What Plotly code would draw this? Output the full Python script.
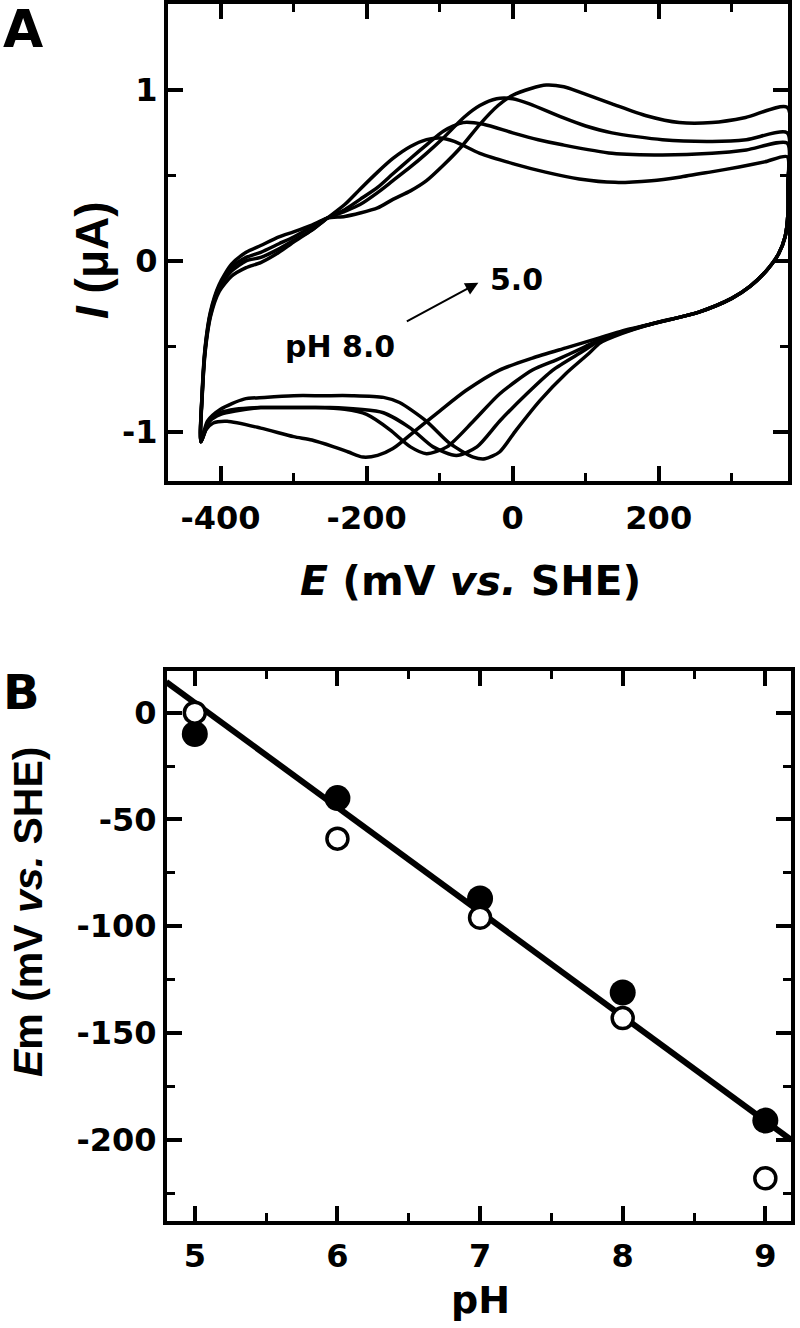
import plotly.graph_objects as go

# ---------------- Panel A: cyclic voltammograms (E / mV vs SHE, I / uA) ----------------
E_ph5 = [-427, -425, -421, -414, -402, -385, -365, -345, -320, -300, -275, -254, -230, -209, -185,
         -164, -140, -118, -95, -70, -45, -20, 0, 25, 46, 70, 91, 136, 183, 228, 273, 319, 376,
         377, 377, 373, 364, 347, 325, 300, 255, 190, 150, 120, 105, 73, 37, 5, -18, -38, -54,
         -86, -118, -155, -177, -220, -260, -300, -340, -368, -400, -418, -427]
I_ph5 = [-1.06, -0.75, -0.50, -0.30, -0.14, -0.02, 0.05, 0.09, 0.14, 0.17, 0.21, 0.25, 0.26, 0.28, 0.31,
         0.36, 0.41, 0.47, 0.56, 0.67, 0.80, 0.91, 0.97, 1.01, 1.03, 1.02, 0.99, 0.92, 0.85, 0.81, 0.81, 0.84, 0.90,
         0.45, 0.28, 0.14, 0.04, -0.06, -0.15, -0.22, -0.30, -0.37, -0.425, -0.48, -0.54, -0.66, -0.82, -0.99, -1.12, -1.16, -1.15,
         -1.07, -0.94, -0.83, -0.80, -0.79, -0.79, -0.79, -0.80, -0.81, -0.87, -0.94, -1.06]

E_ph6 = [-427, -425, -421, -414, -402, -385, -365, -345, -320, -300, -275, -254, -230, -209, -185,
         -164, -140, -118, -95, -67, -45, -22, 0, 23, 68, 100, 136, 205, 273, 320, 376,
         377, 377, 373, 364, 347, 325, 300, 255, 190, 150, 120, 96, 55, 19, -18, -49, -77,
         -109, -140, -177, -210, -250, -300, -345, -380, -400, -415, -427]
I_ph6 = [-1.06, -0.76, -0.51, -0.31, -0.15, -0.04, 0.02, 0.05, 0.10, 0.14, 0.20, 0.25, 0.29, 0.33, 0.40,
         0.47, 0.55, 0.63, 0.72, 0.84, 0.91, 0.95, 0.95, 0.92, 0.84, 0.79, 0.75, 0.71, 0.70, 0.71, 0.75,
         0.45, 0.28, 0.14, 0.04, -0.06, -0.15, -0.22, -0.30, -0.37, -0.42, -0.465, -0.53, -0.64, -0.78, -0.94, -1.09, -1.14,
         -1.09, -0.98, -0.89, -0.87, -0.86, -0.86, -0.86, -0.87, -0.89, -0.93, -1.06]

E_ph7 = [-427, -425, -421, -414, -402, -385, -365, -345, -320, -300, -275, -254, -230, -209, -185,
         -164, -140, -118, -95, -68, -40, 0, 35, 68, 136, 205, 273, 320, 376,
         377, 377, 373, 364, 347, 325, 300, 255, 190, 150, 120, 96, 60, 27, -18, -54, -90,
         -118, -140, -168, -200, -230, -270, -300, -345, -380, -400, -415, -427]
I_ph7 = [-1.06, -0.77, -0.52, -0.32, -0.16, -0.06, 0.00, 0.02, 0.07, 0.12, 0.18, 0.25, 0.30, 0.36, 0.43,
         0.51, 0.60, 0.68, 0.76, 0.81, 0.80, 0.75, 0.71, 0.68, 0.63, 0.62, 0.63, 0.65, 0.69,
         0.45, 0.28, 0.14, 0.04, -0.06, -0.15, -0.22, -0.30, -0.37, -0.415, -0.46, -0.51, -0.58, -0.64, -0.78, -0.94, -1.09,
         -1.13, -1.09, -0.99, -0.90, -0.87, -0.86, -0.86, -0.86, -0.88, -0.90, -0.94, -1.06]

E_ph8 = [-427, -425, -421, -414, -402, -385, -365, -345, -320, -300, -275, -254, -230, -209, -185,
         -164, -140, -118, -100, -80, -45, 0, 45, 91, 140, 190, 228, 270, 310, 345, 376,
         377, 377, 373, 364, 347, 325, 300, 255, 190, 150, 120, 73, 27, -18, -64, -100, -132,
         -164, -185, -205, -225, -245, -275, -300, -345, -391, -410, -420, -427]
I_ph8 = [-1.06, -0.78, -0.53, -0.33, -0.18, -0.09, -0.04, -0.01, 0.05, 0.11, 0.18, 0.25, 0.33, 0.42, 0.52,
         0.60, 0.67, 0.71, 0.72, 0.70, 0.63, 0.57, 0.52, 0.48, 0.46, 0.47, 0.49, 0.52, 0.55, 0.58, 0.61,
         0.45, 0.28, 0.14, 0.04, -0.06, -0.15, -0.22, -0.30, -0.37, -0.41, -0.45, -0.51, -0.57, -0.64, -0.76, -0.88, -0.99,
         -1.10, -1.14, -1.15, -1.12, -1.09, -1.05, -1.03, -0.98, -0.94, -0.95, -0.99, -1.06]

A_xticks = [-400, -200, 0, 200]
A_xminor = [-300, -100, 100, 300]
A_yticks = [-1, 0, 1]
A_yminor = [-0.5, 0.5]

# ---------------- Panel B: Em vs pH ----------------
pH = [5, 6, 7, 8, 9]
Em_filled = [-10, -40, -87, -131, -191]
Em_open = [0, -59, -96, -143, -218]
pH_fit = [4.8, 9.18]
Em_fit = [14.4, -200]

B_xticks = [5, 6, 7, 8, 9]
B_xminor = [5.5, 6.5, 7.5, 8.5]
B_yticks = [-200, -150, -100, -50, 0]
B_yminor = [-225, -175, -125, -75, -25]

# ---------------- figure ----------------
W, H = 800, 1328
def px(x):
    return x / W
def py(y):
    return (H - y) / H

fig = go.Figure()
for E, I in [(E_ph5, I_ph5), (E_ph6, I_ph6), (E_ph7, I_ph7), (E_ph8, I_ph8)]:
    fig.add_trace(go.Scatter(x=E, y=I, mode='lines', xaxis='x', yaxis='y',
                             line=dict(color='black', width=3.5, shape='spline', smoothing=0.7),
                             showlegend=False, hoverinfo='skip'))

fig.add_trace(go.Scatter(x=pH_fit, y=Em_fit, mode='lines', xaxis='x2', yaxis='y2',
                         line=dict(color='black', width=6), showlegend=False))
fig.add_trace(go.Scatter(x=pH, y=Em_filled, mode='markers', xaxis='x2', yaxis='y2',
                         marker=dict(size=26, color='black'), showlegend=False))
fig.add_trace(go.Scatter(x=pH, y=Em_open, mode='markers', xaxis='x2', yaxis='y2',
                         marker=dict(size=21, color='white', line=dict(color='black', width=3.5)),
                         showlegend=False))

tickfont = dict(family='DejaVu Sans', size=32, color='black', weight='bold')
common = dict(showline=True, linecolor='black', linewidth=4, mirror='ticks', ticks='inside',
              ticklen=15, tickwidth=4, tickcolor='black', showgrid=False, zeroline=False,
              tickfont=tickfont, tickmode='array')
def minor(vals):
    return dict(ticks='inside', ticklen=8, tickwidth=3, tickcolor='black',
                tickmode='array', tickvals=vals)

fig.update_layout(
    width=W, height=H, margin=dict(l=0, r=0, t=0, b=0),
    paper_bgcolor='white', plot_bgcolor='white', showlegend=False,
    xaxis=dict(common, domain=[px(168), px(788)], range=[-472, 377], anchor='y',
               tickvals=A_xticks, ticktext=[str(v) for v in A_xticks], ticklabelstandoff=6,
               minor=minor(A_xminor)),
    yaxis=dict(common, domain=[py(481), py(4)], range=[-1.29, 1.505], anchor='x',
               tickvals=A_yticks, ticktext=[str(v) for v in A_yticks], ticklabelstandoff=0,
               minor=minor(A_yminor)),
    xaxis2=dict(common, domain=[px(167), px(791)], range=[4.805, 9.18], anchor='y2',
                tickvals=B_xticks, ticktext=[str(v) for v in B_xticks], ticklabelstandoff=4,
                minor=minor(B_xminor)),
    yaxis2=dict(common, domain=[py(1221), py(671)], range=[-238, 19.5], anchor='x2',
                tickvals=B_yticks, ticktext=[str(v) for v in B_yticks], ticklabelstandoff=0,
                minor=minor(B_yminor)),
)

hfont = lambda s: dict(family='DejaVu Sans', size=s, color='black')
vfont = lambda s: dict(family='Liberation Sans', size=s, color='black')

annotations = [
    dict(text='<b>A</b>', x=px(1), y=py(29), xref='paper', yref='paper', showarrow=False,
         xanchor='left', yanchor='middle', font=hfont(52)),
    dict(text='<b>B</b>', x=px(1), y=py(692), xref='paper', yref='paper', showarrow=False,
         xanchor='left', yanchor='middle', font=hfont(48)),
    dict(text='<b><i>E</i> (mV <i>vs.</i> SHE)</b>', x=px(470), y=py(581), xref='paper', yref='paper',
         showarrow=False, xanchor='center', yanchor='middle', font=hfont(41)),
    dict(text='<b>pH</b>', x=px(480), y=py(1300), xref='paper', yref='paper',
         showarrow=False, xanchor='center', yanchor='middle', font=hfont(38)),
    dict(text='<b><i>I</i> (μA)</b>', x=px(92), y=py(260), xref='paper', yref='paper',
         showarrow=False, xanchor='center', yanchor='middle', textangle=-90, font=vfont(46)),
    dict(text='<b><i>E</i>m (mV <i>vs.</i> SHE)</b>', x=px(28), y=py(912), xref='paper', yref='paper',
         showarrow=False, xanchor='center', yanchor='middle', textangle=-90, font=vfont(41)),
    dict(text='<b>pH 8.0</b>', x=-237, y=-0.50, xref='x', yref='y', showarrow=False,
         xanchor='center', yanchor='middle', font=hfont(30)),
    dict(text='<b>5.0</b>', x=5, y=-0.11, xref='x', yref='y', showarrow=False,
         xanchor='center', yanchor='middle', font=hfont(30)),
    dict(text='', x=-47, y=-0.128, ax=-147, ay=-0.36, xref='x', yref='y', axref='x', ayref='y',
         showarrow=True, arrowhead=2, arrowsize=1.3, arrowwidth=2, arrowcolor='black'),
]
fig.update_layout(annotations=annotations)

fig.write_html('out.html', config={'displayModeBar': False},
               post_script="document.body.style.margin='0';")
